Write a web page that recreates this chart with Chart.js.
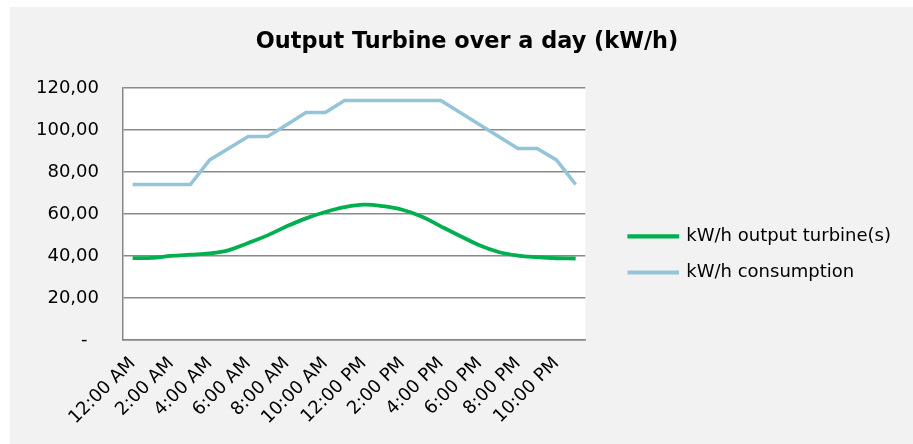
<!DOCTYPE html>
<html>
<head>
<meta charset="utf-8">
<script src="https://cdn.jsdelivr.net/npm/chart.js@4/dist/chart.umd.min.js"></script>
<style>
  html, body { margin: 0; padding: 0; background: #ffffff; }
  #chartBox { position: absolute; left: 10px; top: 7px; width: 903px; height: 437px; background: #f2f2f2; }
</style>
</head>
<body>
<div id="chartBox"><canvas id="turbineChart" width="903" height="437"></canvas></div>
<script>
// hourly categories, every second one is shown on the axis
let hours = ['12:00 AM', '1:00 AM', '2:00 AM', '3:00 AM', '4:00 AM', '5:00 AM',
             '6:00 AM', '7:00 AM', '8:00 AM', '9:00 AM', '10:00 AM', '11:00 AM',
             '12:00 PM', '1:00 PM', '2:00 PM', '3:00 PM', '4:00 PM', '5:00 PM',
             '6:00 PM', '7:00 PM', '8:00 PM', '9:00 PM', '10:00 PM', '11:00 PM'];

let turbineOutput = [39.0, 39.1, 40.0, 40.6, 41.2, 42.8, 46.2, 49.8, 54.1, 57.9, 60.9, 63.2,
                     64.4, 63.7, 62.0, 58.8, 54.1, 49.5, 45.1, 41.9, 40.2, 39.4, 38.9, 38.8];

let consumption = [74.0, 74.0, 74.0, 74.0, 85.7, 91.3, 96.8, 96.8, 102.5, 108.3, 108.3, 114.0,
                   114.0, 114.0, 114.0, 114.0, 114.0, 108.3, 102.6, 96.9, 91.2, 91.2, 85.7, 74.0];

let seriesNames = ['kW/h output turbine(s)', 'kW/h consumption'];

let yMin = 0;
let yMax = 120;
let yStep = 20;

let font = "'DejaVu Sans', Verdana, sans-serif";

// white plot area on the grey chart background
let plotBackground = {
    id: 'plotBackground',
    beforeDraw: function (chart) {
        let a = chart.chartArea;
        let ctx = chart.ctx;
        ctx.save();
        ctx.fillStyle = '#ffffff';
        ctx.fillRect(a.left, a.top, a.right - a.left, a.bottom - a.top);
        ctx.restore();
    }
};

let ctx = document.getElementById('turbineChart').getContext('2d');

let turbineChart = new Chart(ctx, {
    type: 'line',
    data: {
        labels: hours,
        datasets: [{
            label: seriesNames[0],
            data: turbineOutput,
            borderColor: '#00b050',
            backgroundColor: '#00b050',
            borderWidth: 3.8,
            tension: 0.4,
            pointRadius: 0
        }, {
            label: seriesNames[1],
            data: consumption,
            borderColor: '#93c4d8',
            backgroundColor: '#93c4d8',
            borderWidth: 3.5,
            tension: 0,
            pointRadius: 0
        }]
    },
    options: {
        responsive: false,
        animation: false,
        layout: {
            padding: { left: 23, right: 12, top: 0, bottom: 0 }
        },
        scales: {
            x: {
                offset: true,
                grid: { display: false },
                border: { color: '#868686', width: 1.5 },
                ticks: {
                    autoSkip: false,
                    minRotation: 45,
                    maxRotation: 45,
                    padding: 5,
                    color: '#000000',
                    font: { family: font, size: 18 },
                    callback: function (value, index) {
                        return index % 2 === 0 ? this.getLabelForValue(value) : null;
                    }
                },
                afterFit: function (scale) { scale.height = 104; }
            },
            y: {
                min: yMin,
                max: yMax,
                grid: { color: '#8a8a8a', lineWidth: 1.5, drawTicks: false },
                border: { color: '#868686', width: 1.5 },
                ticks: {
                    stepSize: yStep,
                    padding: 24,
                    color: '#000000',
                    font: { family: font, size: 18 },
                    callback: function (value) {
                        return value === 0 ? '-  ' : value.toFixed(2).replace('.', ',');
                    }
                },
                afterFit: function (scale) { scale.width = 90; }
            },
            // empty axis that keeps the gap between plot and legend
            gap: {
                type: 'linear',
                position: 'right',
                grid: { display: false },
                border: { display: false },
                ticks: { display: false },
                afterFit: function (scale) { scale.width = 26; }
            }
        },
        plugins: {
            title: {
                display: true,
                text: 'Output Turbine over a day (kW/h)',
                color: '#000000',
                font: { family: font, size: 22.4, weight: 'bold' },
                padding: { top: 22, bottom: 32 }
            },
            legend: {
                position: 'right',
                align: 'start',
                maxWidth: 320,
                title: { display: true, text: '', font: { size: 12 }, padding: { top: 188, bottom: 0 } },
                labels: {
                    boxWidth: 48,
                    boxHeight: 0.5,
                    padding: 18,
                    color: '#000000',
                    font: { family: font, size: 18 }
                }
            },
            tooltip: { enabled: false }
        }
    },
    plugins: [plotBackground]
});
</script>
</body>
</html>
